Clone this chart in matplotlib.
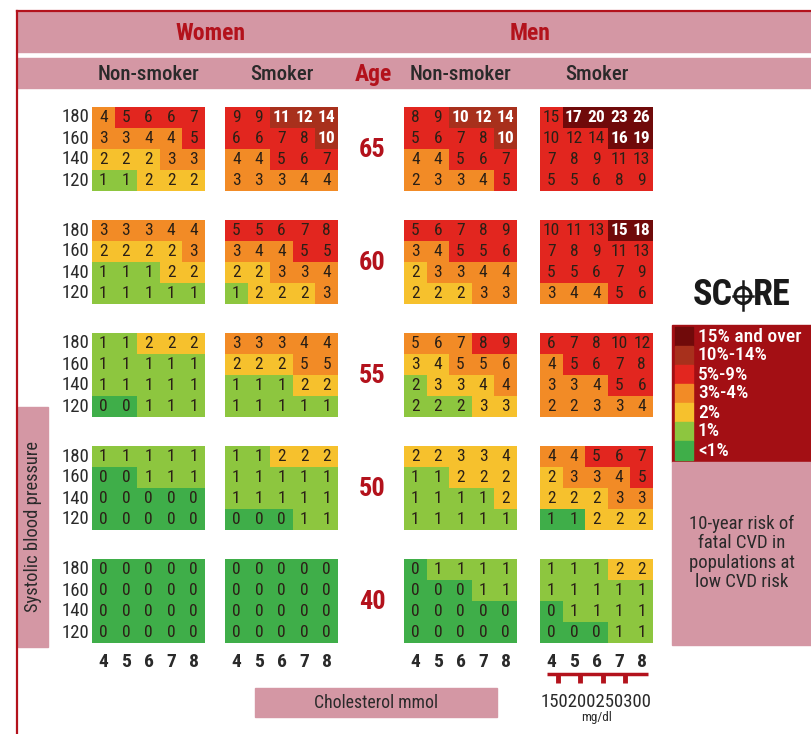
import numpy as np
import matplotlib
matplotlib.use('Agg')
import matplotlib.pyplot as plt
from matplotlib.colors import ListedColormap
from matplotlib.patches import Rectangle, Circle

ages = [65, 60, 55, 50, 40]
sbp = [180, 160, 140, 120]
chol = [4, 5, 6, 7, 8]
chol_mgdl = [150, 200, 250, 300]
group_titles = ['Non-smoker', 'Smoker', 'Non-smoker', 'Smoker']
risk_labels = ['<1%', '1%', '2%', '3%-4%', '5%-9%', '10%-14%', '15% and over']
risk_colors = ['#3fae49', '#8dc63f', '#f6c12d', '#f28b26', '#e2261f', '#a8301c', '#700a0a']

Z = [[0, 0, 0, 0, 0]] * 4

# risk values, one 4x5 grid per age (rows sbp 180..120, cols chol 4..8)
women_ns = [
    [[4, 5, 6, 6, 7], [3, 3, 4, 4, 5], [2, 2, 2, 3, 3], [1, 1, 2, 2, 2]],
    [[3, 3, 3, 4, 4], [2, 2, 2, 2, 3], [1, 1, 1, 2, 2], [1, 1, 1, 1, 1]],
    [[1, 1, 2, 2, 2], [1, 1, 1, 1, 1], [1, 1, 1, 1, 1], [0, 0, 1, 1, 1]],
    [[1, 1, 1, 1, 1], [0, 0, 1, 1, 1], [0, 0, 0, 0, 0], [0, 0, 0, 0, 0]],
    Z,
]
women_s = [
    [[9, 9, 11, 12, 14], [6, 6, 7, 8, 10], [4, 4, 5, 6, 7], [3, 3, 3, 4, 4]],
    [[5, 5, 6, 7, 8], [3, 4, 4, 5, 5], [2, 2, 3, 3, 4], [1, 2, 2, 2, 3]],
    [[3, 3, 3, 4, 4], [2, 2, 2, 5, 5], [1, 1, 1, 2, 2], [1, 1, 1, 1, 1]],
    [[1, 1, 2, 2, 2], [1, 1, 1, 1, 1], [1, 1, 1, 1, 1], [0, 0, 0, 1, 1]],
    Z,
]
men_ns = [
    [[8, 9, 10, 12, 14], [5, 6, 7, 8, 10], [4, 4, 5, 6, 7], [2, 3, 3, 4, 5]],
    [[5, 6, 7, 8, 9], [3, 4, 5, 5, 6], [2, 3, 3, 4, 4], [2, 2, 2, 3, 3]],
    [[5, 6, 7, 8, 9], [3, 4, 5, 5, 6], [2, 3, 3, 4, 4], [2, 2, 2, 3, 3]],
    [[2, 2, 3, 3, 4], [1, 1, 2, 2, 2], [1, 1, 1, 1, 2], [1, 1, 1, 1, 1]],
    [[0, 1, 1, 1, 1], [0, 0, 0, 1, 1], [0, 0, 0, 0, 0], [0, 0, 0, 0, 0]],
]
men_s = [
    [[15, 17, 20, 23, 26], [10, 12, 14, 16, 19], [7, 8, 9, 11, 13], [5, 5, 6, 8, 9]],
    [[10, 11, 13, 15, 18], [7, 8, 9, 11, 13], [5, 5, 6, 7, 9], [3, 4, 4, 5, 6]],
    [[6, 7, 8, 10, 12], [4, 5, 6, 7, 8], [3, 3, 4, 5, 6], [2, 2, 3, 3, 4]],
    [[4, 4, 5, 6, 7], [2, 3, 3, 4, 5], [2, 2, 2, 3, 3], [1, 1, 2, 2, 2]],
    [[1, 1, 1, 2, 2], [1, 1, 1, 1, 1], [0, 1, 1, 1, 1], [0, 0, 0, 1, 1]],
]

# colour band shown in each cell (index into risk_colors), as printed
women_ns_band = [
    [[3, 4, 4, 4, 4], [3, 3, 3, 3, 4], [2, 2, 2, 3, 3], [1, 1, 2, 2, 2]],
    [[3, 3, 3, 3, 3], [2, 2, 2, 2, 3], [1, 1, 1, 2, 2], [1, 1, 1, 1, 1]],
    [[1, 1, 2, 2, 2], [1, 1, 1, 1, 1], [1, 1, 1, 1, 1], [0, 0, 1, 1, 1]],
    [[1, 1, 1, 1, 1], [0, 0, 1, 1, 1], [0, 0, 0, 0, 0], [0, 0, 0, 0, 0]],
    Z,
]
women_s_band = [
    [[4, 4, 5, 5, 5], [4, 4, 4, 4, 5], [3, 3, 4, 4, 4], [3, 3, 3, 3, 3]],
    [[4, 4, 4, 4, 4], [3, 3, 3, 4, 4], [2, 2, 3, 3, 3], [1, 2, 2, 2, 3]],
    [[3, 3, 3, 3, 3], [2, 2, 2, 3, 3], [1, 1, 1, 2, 2], [1, 1, 1, 1, 1]],
    [[1, 1, 2, 2, 2], [1, 1, 1, 1, 1], [1, 1, 1, 1, 1], [0, 0, 0, 1, 1]],
    Z,
]
men_ns_band = [
    [[4, 4, 5, 5, 5], [4, 4, 4, 4, 5], [3, 3, 4, 4, 4], [3, 3, 3, 3, 4]],
    [[4, 4, 4, 4, 4], [3, 3, 4, 4, 4], [2, 3, 3, 3, 3], [2, 2, 2, 3, 3]],
    [[3, 3, 3, 4, 4], [2, 2, 3, 3, 3], [1, 2, 2, 2, 3], [1, 1, 1, 2, 2]],
    [[2, 2, 2, 2, 2], [1, 1, 2, 2, 2], [1, 1, 1, 1, 2], [1, 1, 1, 1, 1]],
    [[0, 1, 1, 1, 1], [0, 0, 0, 1, 1], [0, 0, 0, 0, 0], [0, 0, 0, 0, 0]],
]
men_s_band = [
    [[4, 6, 6, 6, 6], [4, 4, 4, 6, 6], [4, 4, 4, 4, 4], [4, 4, 4, 4, 4]],
    [[4, 4, 4, 6, 6], [4, 4, 4, 4, 4], [4, 4, 4, 4, 4], [3, 3, 3, 4, 4]],
    [[4, 4, 4, 4, 4], [3, 4, 4, 4, 4], [3, 3, 3, 4, 4], [3, 3, 3, 3, 3]],
    [[3, 3, 4, 4, 4], [2, 3, 3, 3, 4], [2, 2, 2, 3, 3], [0, 0, 2, 2, 2]],
    [[1, 1, 1, 2, 2], [1, 1, 1, 1, 1], [0, 1, 1, 1, 1], [0, 0, 0, 1, 1]],
]

groups = [(women_ns, women_ns_band), (women_s, women_s_band),
          (men_ns, men_ns_band), (men_s, men_s_band)]

# layout (pixel coords, y down)
COND = ['Roboto Condensed', 'DejaVu Sans']
RED = '#b3121c'
PINK = '#d497a4'
DARK = '#2a2a2a'
col_x = [92, 225, 404, 540]
row_y = [107, 220, 333, 446, 559]
cw, ch = 22.6, 21.0

fig = plt.figure(figsize=(8.12, 7.34), dpi=100)
ax = fig.add_axes([0, 0, 1, 1])
ax.axis('off')

cmap = ListedColormap(risk_colors)

# header bars
ax.add_patch(Rectangle((17, 12), 800, 40, color=PINK, zorder=0))
ax.add_patch(Rectangle((17, 58), 800, 30, color=PINK, zorder=0))
ax.plot([17, 812], [11, 11], color=RED, lw=1.6)
ax.plot([17, 17], [11, 734], color=RED, lw=1.6)
ax.text(210, 33, 'Women', color=RED, fontsize=17, fontweight='bold', family=COND, ha='center', va='center')
ax.text(530, 33, 'Men', color=RED, fontsize=17, fontweight='bold', family=COND, ha='center', va='center')
for gi, title in enumerate(group_titles):
    ax.text(col_x[gi] + 2.5 * cw, 74, title, color=DARK, fontsize=15, fontweight='medium',
            family=COND, ha='center', va='center')
ax.text(373, 75, 'Age', color=RED, fontsize=17, fontweight='bold', family=COND, ha='center', va='center')

# risk grids
for gi, (vals, bands) in enumerate(groups):
    x0 = col_x[gi]
    for ai, age in enumerate(ages):
        y0 = row_y[ai]
        v = np.array(vals[ai])
        b = np.array(bands[ai])
        ax.imshow(b, cmap=cmap, vmin=-0.5, vmax=len(risk_colors) - 0.5,
                  extent=(x0, x0 + 5 * cw, y0 + 4 * ch, y0), aspect='auto',
                  interpolation='nearest', zorder=1)
        for r in range(4):
            for c in range(5):
                light = b[r, c] >= 5
                ax.text(x0 + (c + 0.5) * cw, y0 + (r + 0.5) * ch, str(v[r, c]),
                        color='white' if light else '#2b2016', fontsize=12.5,
                        fontweight='bold' if light else 'normal', family=COND,
                        ha='center', va='center', zorder=2)

# sbp labels and age labels
for ai, age in enumerate(ages):
    y0 = row_y[ai]
    for r, p in enumerate(sbp):
        ax.text(89, y0 + (r + 0.5) * ch, str(p), color=DARK, fontsize=13.5, family=COND,
                ha='right', va='center')
    ax.text(372, y0 + 2 * ch + 1, str(age), color=RED, fontsize=19, fontweight='bold',
            family=COND, ha='center', va='center')

# cholesterol tick labels
for gi in range(4):
    for c, v in enumerate(chol):
        ax.text(col_x[gi] + (c + 0.5) * cw, 662, str(v), color=DARK, fontsize=14,
                fontweight='bold', family=COND, ha='center', va='center')

# mg/dl scale under men smoker
x0 = col_x[3]
ax.plot([x0 + 7, x0 + 5 * cw - 5], [674, 674], color=RED, lw=2.5, solid_capstyle='butt')
for i, mg in enumerate(chol_mgdl):
    xs = x0 + (i + 0.78) * cw
    ax.plot([xs, xs], [674, 683], color=RED, lw=3.5, solid_capstyle='butt')
ax.text(x0 + 2.5 * cw, 702, ''.join(str(m) for m in chol_mgdl), color=DARK, fontsize=13.5,
        family=COND, ha='center', va='center')
ax.text(x0 + 2.5 * cw, 718, 'mg/dl', color=DARK, fontsize=9.5, family=COND, ha='center', va='center')

# axis title boxes
ax.add_patch(Rectangle((255, 688), 242, 29, color=PINK, zorder=0))
ax.text(376, 702.5, 'Cholesterol mmol', color=DARK, fontsize=12.8, family=COND, ha='center', va='center')
ax.add_patch(Rectangle((18, 407), 30, 240, color=PINK, zorder=0))
ax.text(33, 527, 'Systolic blood pressure', color=DARK, fontsize=13.3, family=COND,
        rotation=90, ha='center', va='center')

# SCORE logo
ax.text(733, 295, 'SC', color='#1a1a1a', fontsize=26, fontweight='bold', family=COND, ha='right', va='center')
ax.text(753, 295, 'RE', color='#1a1a1a', fontsize=26, fontweight='bold', family=COND, ha='left', va='center')
ax.add_patch(Circle((743, 295.5), 8, fill=False, ec='#1a1a1a', lw=2.3))
ax.plot([743, 743], [281, 310], color='#1a1a1a', lw=1.8)
ax.plot([733, 753], [295.5, 295.5], color='#1a1a1a', lw=1.8)

# legend
ax.add_patch(Rectangle((672, 325), 145, 137, color='#a30f14', zorder=0))
for k, (lab, colr) in enumerate(zip(risk_labels[::-1], risk_colors[::-1])):
    yk = 327 + k * 19
    ax.add_patch(Rectangle((675, yk), 18, 18.5, color=colr, zorder=1))
    ax.text(698, yk + 9.5, lab, color='white', fontsize=14, fontweight='medium', family=COND,
            ha='left', va='center')
ax.add_patch(Rectangle((672, 462), 145, 183, color=PINK, zorder=0))
ax.text(742, 553, '10-year risk of\nfatal CVD in\npopulations at\nlow CVD risk', color=DARK,
        fontsize=13.5, family=COND, ha='center', va='center', linespacing=1.1)

ax.set_xlim(0, 812)
ax.set_ylim(734, 0)
fig.savefig('out.png', dpi=100)
